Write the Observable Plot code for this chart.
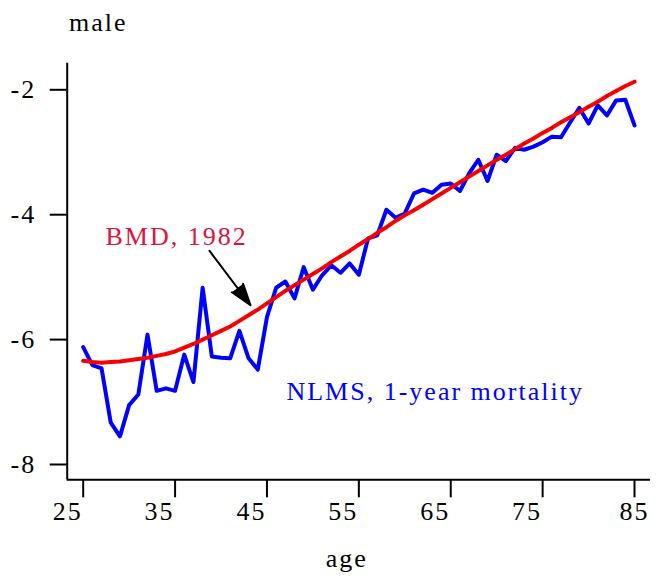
<!DOCTYPE html>
<html><head><meta charset="utf-8">
<script src="https://cdn.jsdelivr.net/npm/d3@7"></script>
<script src="https://cdn.jsdelivr.net/npm/@observablehq/plot@0.6"></script>
<style>body{margin:0;background:#fff}</style>
</head><body><div id="chart"></div>
<script>
const ages = [25,26,27,28,29,30,31,32,33,34,35,36,37,38,39,40,41,42,43,44,45,46,47,48,49,50,51,52,53,54,55,56,57,58,59,60,61,62,63,64,65,66,67,68,69,70,71,72,73,74,75,76,77,78,79,80,81,82,83,84,85];
const nlms = [-6.12,-6.41,-6.46,-7.33,-7.55,-7.05,-6.88,-5.92,-6.82,-6.78,-6.82,-6.24,-6.68,-5.17,-6.27,-6.29,-6.30,-5.86,-6.30,-6.48,-5.64,-5.17,-5.07,-5.34,-4.84,-5.20,-4.97,-4.81,-4.93,-4.78,-4.96,-4.38,-4.33,-3.92,-4.05,-3.98,-3.66,-3.60,-3.65,-3.52,-3.50,-3.62,-3.34,-3.12,-3.46,-3.04,-3.14,-2.93,-2.96,-2.91,-2.84,-2.75,-2.76,-2.52,-2.29,-2.54,-2.25,-2.41,-2.17,-2.16,-2.57];
const bmd = [-6.34,-6.36,-6.37,-6.36,-6.35,-6.33,-6.31,-6.29,-6.26,-6.23,-6.19,-6.13,-6.07,-6.00,-5.93,-5.86,-5.79,-5.70,-5.61,-5.52,-5.42,-5.32,-5.22,-5.13,-5.04,-4.95,-4.86,-4.76,-4.67,-4.58,-4.48,-4.39,-4.29,-4.20,-4.10,-4.01,-3.93,-3.84,-3.75,-3.66,-3.57,-3.48,-3.39,-3.30,-3.21,-3.12,-3.04,-2.95,-2.86,-2.78,-2.69,-2.61,-2.52,-2.44,-2.36,-2.27,-2.19,-2.10,-2.02,-1.94,-1.87];
const xTicks = [25,35,45,55,65,75,85];
const xTicksShifted = [25,35,45,55,65,75];
const xTicksCentered = [85];
const yTicks = [-2,-4,-6,-8];
const xDomain = [23.26, 86.74];
const yDomain = [-8.245, -1.574];
const yTitle = ["male"];
const xTitle = ["age"];
const seriesLabels = [
  {text: "BMD, 1982", age: 27.43, value: -4.344, color: "#dc143c"},
  {text: "NLMS, 1-year mortality", age: 47.12, value: -6.83, color: "#0000ff"}
];
const arrows = [{age1: 38.75, v1: -4.58, age2: 43.21, v2: -5.45}];

const nlmsData = ages.map((a, i) => ({age: a, value: nlms[i]}));
const bmdData = ages.map((a, i) => ({age: a, value: bmd[i]}));

const font = {fontFamily: "Liberation Serif", fontSize: 26};

const chart = Plot.plot({
  width: 656,
  height: 581,
  marginLeft: 66.7,
  marginRight: 6,
  marginTop: 62.7,
  marginBottom: 101.7,
  style: {fontFamily: "Liberation Serif", fontSize: "26px", letterSpacing: "2px", background: "#fff", color: "#000"},
  x: {domain: xDomain, axis: null},
  y: {domain: yDomain, axis: null},
  marks: [
    Plot.ruleX([xDomain[0]], {stroke: "black", strokeWidth: 2}),
    Plot.ruleY([yDomain[0]], {stroke: "black", strokeWidth: 2}),
    Plot.axisX(xTicks, {tickSize: 18, strokeWidth: 2, tickFormat: () => "", stroke: "black"}),
    Plot.text(xTicksShifted, {x: d => d, text: d => String(d), frameAnchor: "bottom", lineAnchor: "top", dy: 22.2, dx: -15.5, ...font, fill: "black"}),
    Plot.text(xTicksCentered, {x: d => d, text: d => String(d), frameAnchor: "bottom", lineAnchor: "top", dy: 22.2, dx: 0, ...font, fill: "black"}),
    Plot.axisY(yTicks, {tickSize: 17, tickPadding: 14, strokeWidth: 2, stroke: "black", tickFormat: d => String(d), ...font, fill: "black"}),
    Plot.text(yTitle, {text: d => d, frameAnchor: "top-left", dx: 31, dy: -41, lineAnchor: "middle", textAnchor: "middle", ...font, fill: "black"}),
    Plot.text(xTitle, {text: d => d, frameAnchor: "bottom", dx: -12, dy: 78.4, lineAnchor: "middle", textAnchor: "middle", ...font, fill: "black"}),
    Plot.line(nlmsData, {x: "age", y: "value", stroke: "#0000ff", strokeWidth: 4, strokeLinejoin: "round", strokeLinecap: "round"}),
    Plot.line(bmdData, {x: "age", y: "value", stroke: "#ff0000", strokeWidth: 4, strokeLinejoin: "round", strokeLinecap: "round"}),
    Plot.dot(bmdData, {x: "age", y: "value", r: 1.3, fill: "#d40000", stroke: null}),
    Plot.arrow(arrows, {x1: "age1", y1: "v1", x2: "age2", y2: "v2", stroke: "black", fill: "black", strokeWidth: 2, headLength: 20, headAngle: 36}),
    Plot.text(seriesLabels, {x: "age", y: "value", text: "text", fill: d => d.color, textAnchor: "start", lineAnchor: "middle", ...font})
  ]
});
document.getElementById("chart").appendChild(chart);
</script>
</body></html>
